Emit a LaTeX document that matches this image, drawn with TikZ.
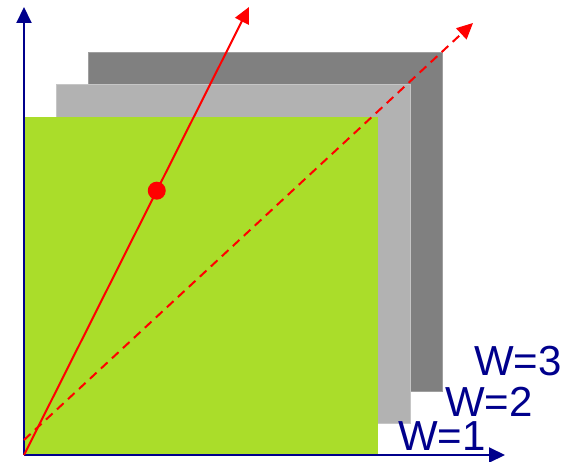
\documentclass[tikz,border=0pt]{standalone}
\usepackage{fontspec}
\setmainfont{Liberation Sans}
\usetikzlibrary{arrows.meta, positioning, calc}
\definecolor{axisblue}{RGB}{0, 0, 140}
\definecolor{leafgreen}{RGB}{170, 221, 42}
\definecolor{lightgrey}{RGB}{178, 178, 178}
\definecolor{darkgrey}{RGB}{128, 128, 128}
\definecolor{hotred}{RGB}{255, 0, 0}

\begin{document}
\begin{tikzpicture}[
    x=1pt, y=1pt,
    every node/.style={font=\fontsize{42}{50}\selectfont, text=axisblue, inner sep=0pt},
    layer/.style={line width=1pt},
    axis/.style={-{Triangle[length=16pt, width=15pt]}, line width=2pt, draw=axisblue},
    ray/.style={-{Triangle[length=16pt, width=15pt]}, line width=2pt, draw=hotred},
    dashray/.style={ray, dash pattern=on 9pt off 6pt},
    pt/.style={circle, fill=hotred, minimum size=18pt}
]
\useasboundingbox (0,0) rectangle (575,461);

% Key points
\coordinate (O) at (24,6);
\coordinate (xend) at (505,6);
\coordinate (yend) at (24,454);
\coordinate (dstart) at (24,21);
\coordinate (dend) at (473,438);
\coordinate (rend) at (249,454);

% Layers, back to front
\filldraw[layer, fill=darkgrey, draw=gray!75] (88,70) rectangle (442,408);
\filldraw[layer, fill=lightgrey, draw=gray!45] (56,38) rectangle (410,376);
\fill[leafgreen] (O) rectangle (378,344);

% Axes
\draw[axis] (O) -- (xend);
\draw[axis] (O) -- (yend);

% Rays
\draw[dashray] (dstart) -- (dend);
\draw[ray] (O) -- (rend) node[pt, pos=0.59] (p) {};

% Labels
\node[anchor=base west] (w3) at (474,86) {W=3};
\node[anchor=base west] (w2) at (445,45) {W=2};
\node[anchor=base west] (w1) at (398,11) {W=1};

\end{tikzpicture}
\end{document}
